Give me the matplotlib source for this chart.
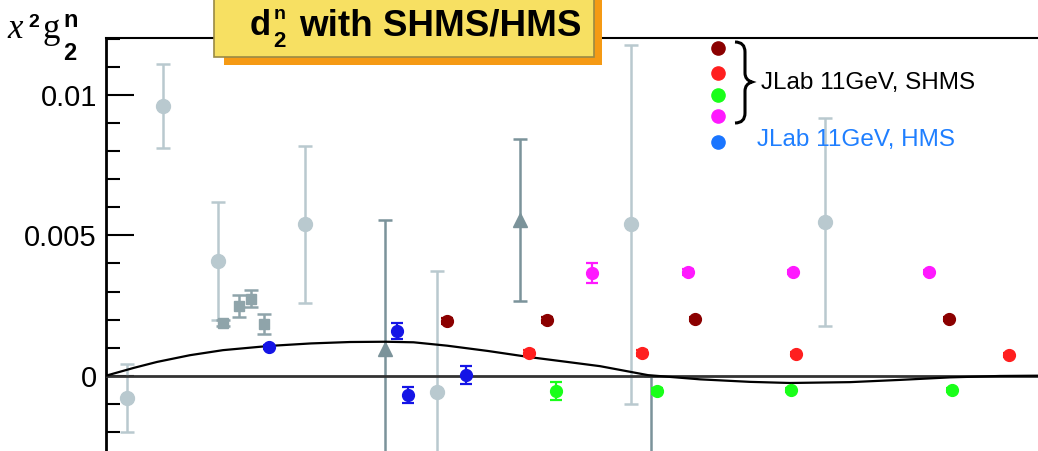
import matplotlib
matplotlib.use("Agg")
import matplotlib.pyplot as plt
from matplotlib.patches import Rectangle, PathPatch
from matplotlib.path import Path
from matplotlib.transforms import Affine2D

plt.rcParams['font.family'] = ['Liberation Sans', 'DejaVu Sans']

W, H = 1038, 451

# world data (grey), x and x^2 g2 with errors
old_circ_x = [0.0225, 0.0612, 0.1202, 0.2135, 0.3552, 0.5633, 0.7715]
old_circ_y = [-0.0008, 0.0096, 0.0041, 0.0054, -0.00058, 0.0054, 0.00548]
old_circ_e = [0.0012, 0.0015, 0.0021, 0.0028, 0.0043, 0.0064, 0.0037]

old_sq_x = [0.1255, 0.1427, 0.1556, 0.1695]
old_sq_y = [0.00188, 0.00249, 0.00274, 0.00184]
old_sq_e = [0.0001, 0.0004, 0.0003, 0.00036]

old_tri_x = [0.2994, 0.4442, 0.5848]
old_tri_y = [0.00096, 0.00555, -0.0042]
old_tri_e = [0.0046, 0.0029, 0.0042]

# projected HMS points
hms_x = [0.1749, 0.3122, 0.3240, 0.3863]
hms_y = [0.00102, 0.00159, -0.00069, 0.00002]
hms_e = [0.00008, 0.0003, 0.0003, 0.00032]

# projected SHMS points, four settings
shms_x = {
    'darkred': [0.3659, 0.4732, 0.6320, 0.9045],
    'red':     [0.4539, 0.5751, 0.7403, 0.9689],
    'green':   [0.4828, 0.5912, 0.7350, 0.9077],
    'magenta': [0.5215, 0.6245, 0.7371, 0.8830],
}
shms_y = {
    'darkred': [0.00195, 0.00198, 0.00202, 0.00202],
    'red':     [0.00081, 0.00081, 0.00077, 0.00074],
    'green':   [-0.00055, -0.00055, -0.00051, -0.00051],
    'magenta': [0.00366, 0.00370, 0.00370, 0.00370],
}
shms_e = {
    'darkred': [0.00012, 0.0001, 0.00008, 0.00008],
    'red':     [0.00012, 0.00012, 0.00008, 0.00008],
    'green':   [0.00032, 0.0001, 0.00008, 0.00008],
    'magenta': [0.00034, 0.0001, 0.00008, 0.00008],
}
shms_col = {'darkred': '#8b0000', 'red': '#ff1f1f', 'green': '#19ff19', 'magenta': '#ff19ff'}

# x^2 g2 WW curve
curve_x = [0.0, 0.0300, 0.0547, 0.0900, 0.1255, 0.1749, 0.2200, 0.2618, 0.2994, 0.3300,
           0.3659, 0.4100, 0.4549, 0.4950, 0.5300, 0.5815, 0.6373, 0.6910, 0.7339,
           0.7983, 0.8519, 0.9056, 0.9592, 1.0]
curve_y = [0.0, 0.00028, 0.00049, 0.00073, 0.00091, 0.00106, 0.00115, 0.00120, 0.00121,
           0.00119, 0.00107, 0.00088, 0.00066, 0.00049, 0.00034, 0.00002, -0.00013,
           -0.00022, -0.00026, -0.00023, -0.00015, -0.00006, -0.00001, 0.0]

yticks = [0, 0.005, 0.01]
yticklabels = ['0', '0.005', '0.01']

fig = plt.figure(figsize=(W / 100, H / 100), dpi=100)
pix = Affine2D().scale(1 / W, -1 / H).translate(0, 1) + fig.transFigure

ax = fig.add_axes([106 / W, 0, (W - 106) / W, 1 - 38 / H])
ax.set_xlim(0, 1)
ax.set_ylim(-0.002684, 0.012035)
for s in ['right', 'bottom']:
    ax.spines[s].set_visible(False)
ax.spines['left'].set_linewidth(2)
ax.spines['top'].set_linewidth(1.5)
ax.set_xticks([])
ax.set_yticks(yticks)
ax.set_yticklabels(yticklabels)
ax.set_yticks([i * 0.001 for i in range(-2, 13)], minor=True)
ax.tick_params(axis='y', which='major', direction='in', length=20, width=1.5,
               labelsize=21, pad=6.5)
ax.tick_params(axis='y', which='minor', direction='in', length=10, width=1.5)

ax.axhline(0, color='#333333', lw=2, zorder=3)
ax.plot(curve_x, curve_y, color='black', lw=1.6, zorder=3)

ax.errorbar(old_circ_x, old_circ_y, yerr=old_circ_e, fmt='o', color='#b9c9cf',
            ms=10, elinewidth=1.8, capsize=5, capthick=1.8, zorder=2)
ax.errorbar(old_sq_x, old_sq_y, yerr=old_sq_e, fmt='s', color='#8fa4aa',
            ms=7.5, elinewidth=1.8, capsize=5, capthick=1.8, zorder=2)
ax.errorbar(old_tri_x, old_tri_y, yerr=old_tri_e, fmt='^', color='#7b939a',
            ms=10, elinewidth=1.8, capsize=5, capthick=1.8, zorder=2)

ax.errorbar(hms_x, hms_y, yerr=hms_e, fmt='o', color='#1414e6',
            ms=8.5, elinewidth=1.6, capsize=4.5, capthick=1.6, zorder=4)
for k in shms_x:
    ax.errorbar(shms_x[k], shms_y[k], yerr=shms_e[k], fmt='o', color=shms_col[k],
                ms=8.5, elinewidth=1.6, capsize=4.5, capthick=1.6, zorder=4)

# y axis title x^2 g2^n
fig.text(7, 38, 'x', transform=pix, family='Liberation Serif', style='italic',
         size=25, va='baseline')
fig.text(28, 27, '2', transform=pix, weight='bold', size=14, va='baseline')
fig.text(43, 38, 'g', transform=pix, family='Liberation Serif', size=25, va='baseline')
fig.text(63, 27, 'n', transform=pix, weight='bold', size=17, va='baseline')
fig.text(63, 60, '2', transform=pix, weight='bold', size=17, va='baseline')

# title box with orange shadow
fig.add_artist(Rectangle((224, -5), 378, 70, transform=pix, facecolor='#f59a14',
                         edgecolor='none'))
fig.add_artist(Rectangle((214, -5), 380, 62, transform=pix, facecolor='#f7e062',
                         edgecolor='#9a8a45', lw=1.2))
fig.text(250, 35, 'd', transform=pix, weight='bold', size=25, va='baseline')
fig.text(274, 19, 'n', transform=pix, weight='bold', size=14, va='baseline')
fig.text(273, 47, '2', transform=pix, weight='bold', size=16, va='baseline')
fig.text(299, 35, 'with SHMS/HMS', transform=pix, weight='bold', size=26.5, va='baseline')

# legend
leg_y = [48, 73, 95, 116]
for yy, k in zip(leg_y, shms_col):
    ax.plot([718], [yy], 'o', color=shms_col[k], ms=9.5, transform=pix, clip_on=False)
ax.plot([718], [142], 'o', color='#1a75ff', ms=9.5, transform=pix, clip_on=False)

brace = Path([(735, 42), (745, 42), (745, 52), (745, 73), (745, 80), (752, 82),
              (745, 84), (745, 91), (745, 113), (745, 123), (735, 123)],
             [Path.MOVETO, Path.CURVE3, Path.CURVE3, Path.LINETO, Path.CURVE3, Path.CURVE3,
              Path.CURVE3, Path.CURVE3, Path.LINETO, Path.CURVE3, Path.CURVE3])
fig.add_artist(PathPatch(brace, transform=pix, facecolor='none', edgecolor='black', lw=2.2))
fig.text(761, 89, 'JLab 11GeV, SHMS', transform=pix, size=17.5, va='baseline')
fig.text(757, 146, 'JLab 11GeV, HMS', transform=pix, size=17.5, va='baseline',
         color='#1f7fff')

fig.savefig('out.png', dpi=100)
